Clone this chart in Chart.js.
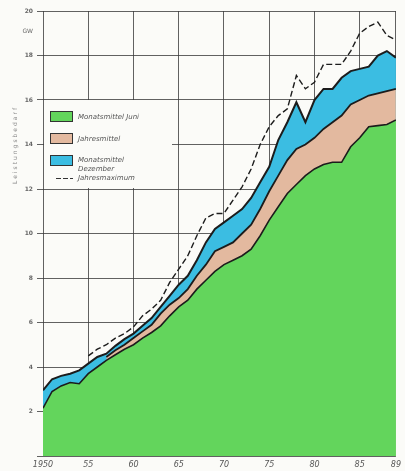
<!DOCTYPE html>
<html><head><meta charset="utf-8">
<script src="https://cdn.jsdelivr.net/npm/chart.js@4.4.1/dist/chart.umd.min.js"></script>
<style>html,body{margin:0;padding:0;background:#fbfbf8;}#wrap{width:405px;height:471px;}</style>
</head><body><div id="wrap"><canvas id="c" width="405" height="471"></canvas></div>
<script>
const years = [1950,1951,1952,1953,1954,1955,1956,1957,1958,1959,1960,1961,1962,1963,1964,1965,1966,1967,1968,1969,1970,1971,1972,1973,1974,1975,1976,1977,1978,1979,1980,1981,1982,1983,1984,1985,1986,1987,1988,1989];
const juniValues = [2.15,2.9,3.15,3.3,3.25,3.7,4.0,4.3,4.55,4.8,5.0,5.3,5.55,5.85,6.3,6.7,7.0,7.5,7.9,8.3,8.6,8.8,9.0,9.3,9.9,10.6,11.2,11.8,12.2,12.6,12.9,13.1,13.2,13.2,13.9,14.3,14.8,14.85,14.9,15.1];
const jahresmittelValues = [null,null,null,null,null,null,null,4.45,4.75,5.0,5.3,5.6,5.9,6.4,6.8,7.1,7.5,8.1,8.6,9.2,9.4,9.6,10.0,10.4,11.1,11.9,12.6,13.3,13.8,14.0,14.3,14.7,15.0,15.3,15.8,16.0,16.2,16.3,16.4,16.5];
const dezemberValues = [2.95,3.45,3.6,3.7,3.85,4.15,4.45,4.6,4.95,5.25,5.5,5.85,6.2,6.7,7.2,7.7,8.1,8.8,9.6,10.2,10.5,10.8,11.1,11.6,12.3,13.0,14.2,15.0,15.9,15.0,16.0,16.5,16.5,17.0,17.3,17.4,17.5,18.0,18.2,17.9];
const maximumValues = [null,null,null,null,null,4.5,4.8,5.0,5.3,5.5,5.8,6.3,6.6,7.0,7.8,8.4,9.0,9.9,10.7,10.9,10.9,11.5,12.1,12.9,14.0,14.8,15.3,15.6,17.1,16.5,16.8,17.6,17.6,17.6,18.2,19.0,19.3,19.5,18.9,18.7];
const xTickValues = [1950,1955,1960,1965,1970,1975,1980,1985,1989];
const xTickLabels = ['1950','55','60','65','70','75','80','85','89'];
const yTickValues = [0,2,4,6,8,10,12,14,16,18,20];
const yTickLabels = ['','2','4','6','8','10','12','14','16','18','20'];
const unitLabel = 'GW';
const axisTitle = 'Leistungsbedarf';
const legendLabels = [['Monatsmittel Juni'],['Jahresmittel'],['Monatsmittel','Dezember'],['Jahresmaximum']];

const BG = '#fbfbf8';
const GREEN = '#63d55c';
const TAN = '#e3b99f';
const BLUE = '#3bbde2';
const LINE = '#1c1c1c';

const pts = vals => years.map((y,i) => ({x:y, y:vals[i]}));

const overlay = {
  id:'overlay',
  afterDraw(chart){
    const ctx = chart.ctx, ys = chart.scales.y;
    ctx.save();
    // unit label
    ctx.font = '6px "DejaVu Sans"';
    ctx.fillStyle = '#666';
    ctx.textAlign = 'right'; ctx.textBaseline = 'middle';
    ctx.fillText(unitLabel, 33, ys.getPixelForValue(19.1));
    // axis title
    ctx.translate(15, 145);
    ctx.rotate(-Math.PI/2);
    ctx.textAlign = 'center';
    ctx.font = '6px "DejaVu Sans"';
    ctx.letterSpacing = '2px';
    ctx.fillStyle = '#888';
    ctx.fillText(axisTitle, 0, 0);
    ctx.restore();
    // legend box
    ctx.save();
    ctx.fillStyle = BG;
    ctx.fillRect(44, 100, 128, 88);
    const boxes = [{c:GREEN,y:111},{c:TAN,y:133},{c:BLUE,y:155}];
    boxes.forEach((b,i)=>{
      ctx.fillStyle = b.c; ctx.fillRect(50, b.y, 23, 11);
      ctx.strokeStyle = '#333'; ctx.lineWidth = 1; ctx.strokeRect(50.5, b.y+0.5, 22, 10);
    });
    ctx.strokeStyle = '#333'; ctx.lineWidth = 1; ctx.setLineDash([5,2]);
    ctx.beginPath(); ctx.moveTo(56, 178.5); ctx.lineTo(73, 178.5); ctx.stroke();
    ctx.setLineDash([]);
    ctx.font = 'italic 7px "DejaVu Sans"';
    ctx.fillStyle = '#555';
    ctx.textAlign = 'left'; ctx.textBaseline = 'middle';
    ctx.fillText(legendLabels[0][0], 78, 117);
    ctx.fillText(legendLabels[1][0], 78, 139);
    ctx.fillText(legendLabels[2][0], 78, 160);
    ctx.fillText(legendLabels[2][1], 78, 169);
    ctx.fillText(legendLabels[3][0], 78, 178);
    ctx.restore();
  }
};

new Chart(document.getElementById('c'), {
  type:'line',
  data:{datasets:[
    {label:'Jahresmaximum', data:pts(maximumValues), borderColor:LINE, borderWidth:1.4, borderDash:[6,3], fill:false, order:0},
    {label:'Monatsmittel Juni', data:pts(juniValues), borderColor:LINE, borderWidth:1.6, backgroundColor:GREEN, fill:'origin', order:1},
    {label:'Jahresmittel', data:pts(jahresmittelValues), borderColor:LINE, borderWidth:1.8, backgroundColor:TAN, fill:'origin', order:2},
    {label:'Monatsmittel Dezember', data:pts(dezemberValues), borderColor:LINE, borderWidth:2, backgroundColor:BLUE, fill:'origin', order:3}
  ]},
  options:{
    responsive:false, animation:false, devicePixelRatio:1,
    layout:{padding:{top:11,right:9,left:0,bottom:0}},
    elements:{point:{radius:0}, line:{tension:0}},
    plugins:{legend:{display:false}, tooltip:{enabled:false}},
    scales:{
      x:{type:'linear', min:1950, max:1989, z:1,
        afterBuildTicks:s=>{s.ticks = xTickValues.map(v=>({value:v}));},
        afterFit:s=>{s.height = 15;},
        grid:{color:'#3a3a3a', lineWidth:0.8, drawTicks:false},
        border:{display:false},
        ticks:{autoSkip:false, maxRotation:0, padding:4, color:'#555', font:{family:'DejaVu Sans', size:8, style:'italic'},
          callback:v=>xTickLabels[xTickValues.indexOf(v)]}
      },
      y:{type:'linear', min:0, max:20, z:1,
        afterBuildTicks:s=>{s.ticks = yTickValues.map(v=>({value:v}));},
        afterFit:s=>{s.width = 43;},
        grid:{color:'#3a3a3a', lineWidth:0.8, tickLength:6},
        border:{display:false},
        ticks:{padding:4, color:'#666', font:{family:'DejaVu Sans', size:6, weight:'bold'},
          callback:v=>yTickLabels[yTickValues.indexOf(v)]}
      }
    }
  },
  plugins:[overlay]
});
</script></body></html>
